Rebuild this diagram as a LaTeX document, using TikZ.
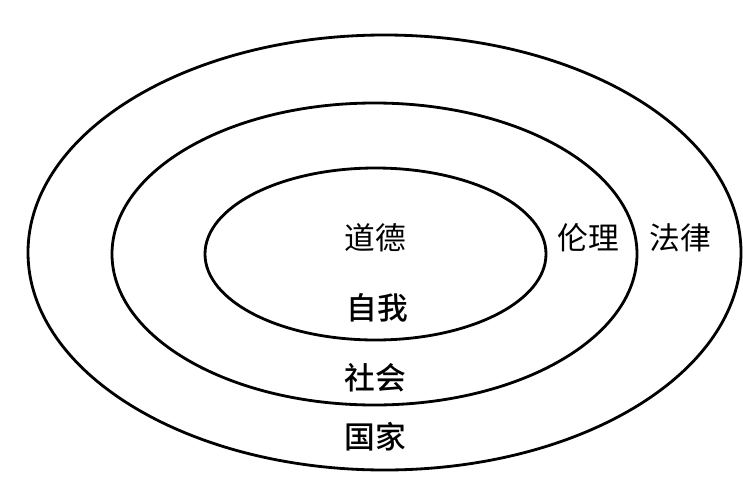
\documentclass[tikz,border=0pt]{standalone}
\usepackage{fontspec}
\newfontfamily\cjk{Noto Sans CJK SC}
\newfontfamily\cjkbold{Noto Sans CJK SC Medium}
\usepackage{tikz}
\begin{document}
\begin{tikzpicture}
    [x=0.02cm,y=-0.02cm,
    ring/.style={draw=black,line width=1.6pt},
    label/.style={font=\cjk\fontsize{17.5}{20}\selectfont},
    boldlabel/.style={font=\cjkbold\fontsize{17.5}{20}\selectfont}]

    \useasboundingbox (0,0) rectangle (743,497);

    \draw [ring] (384.5,252.5) ellipse [x radius=356.5,y radius=217.5];
    \draw [ring] (374.5,254) ellipse [x radius=262.5,y radius=151];
    \draw [ring] (375.5,254) ellipse [x radius=170.5,y radius=86];

    \node (daode) [label] at (375,238) {道德};
    \node (ziwo) [boldlabel] at (377,308) {自我};
    \node (lunli) [label] at (588,238) {伦理};
    \node (falv) [label] at (680,238) {法律};
    \node (shehui) [boldlabel] at (375,378) {社会};
    \node (guojia) [boldlabel] at (375,437) {国家};
  \end{tikzpicture}
\end{document}
